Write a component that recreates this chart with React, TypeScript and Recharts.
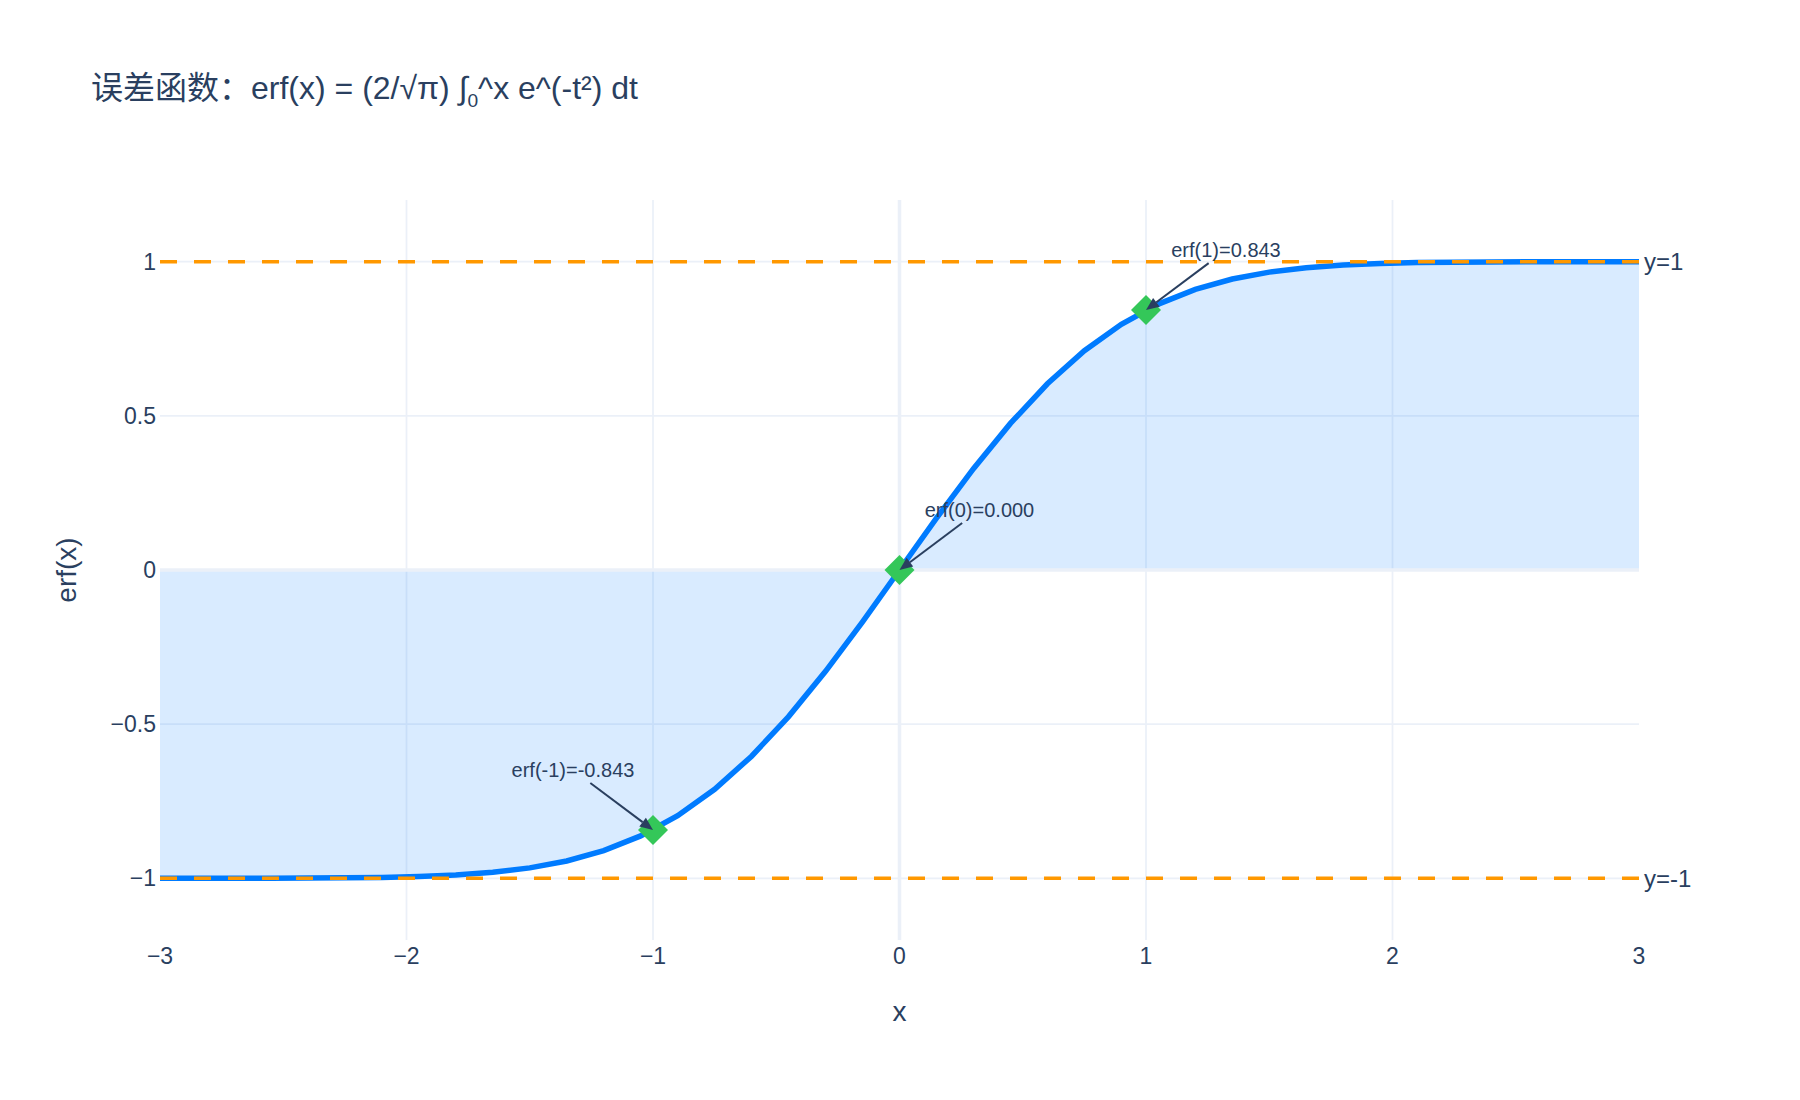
import {
  Area,
  CartesianGrid,
  ComposedChart,
  Line,
  ReferenceLine,
  Scatter,
  XAxis,
  YAxis,
} from "recharts";

// erf(x) sampled every 0.15 on [-3, 3]
const xValues = [
  -3, -2.85, -2.7, -2.55, -2.4, -2.25, -2.1, -1.95, -1.8, -1.65, -1.5, -1.35,
  -1.2, -1.05, -0.9, -0.75, -0.6, -0.45, -0.3, -0.15, 0, 0.15, 0.3, 0.45, 0.6,
  0.75, 0.9, 1.05, 1.2, 1.35, 1.5, 1.65, 1.8, 1.95, 2.1, 2.25, 2.4, 2.55, 2.7,
  2.85, 3,
];
const erfValues = [
  -1.0, -1.0, -0.9999, -0.9997, -0.9993, -0.9985, -0.997, -0.9942, -0.9891,
  -0.9804, -0.9661, -0.9438, -0.9103, -0.8624, -0.7969, -0.7112, -0.6039,
  -0.4755, -0.3286, -0.168, 0, 0.168, 0.3286, 0.4755, 0.6039, 0.7112, 0.7969,
  0.8624, 0.9103, 0.9438, 0.9661, 0.9804, 0.9891, 0.9942, 0.997, 0.9985,
  0.9993, 0.9997, 0.9999, 1.0, 1.0,
];

const markerX = [-1, 0, 1];
const markerY = [-0.843, 0, 0.843];
const markerLabels = ["erf(-1)=-0.843", "erf(0)=0.000", "erf(1)=0.843"];

const boundValues = [1, -1];
const boundLabels = ["y=1", "y=-1"];

const xTicks = [-3, -2, -1, 0, 1, 2, 3];
const yTicks = [-1, -0.5, 0, 0.5, 1];
// grid lines sit on inner ticks only (none on the plot edges)
const xGridTicks = [-2, -1, 1, 2];
const yGridTicks = [-1, -0.5, 0.5, 1];

const curveData = xValues.map((x, i) => ({ x, y: erfValues[i] }));
const markerData = markerX.map((x, i) => ({
  x,
  y: markerY[i],
  label: markerLabels[i],
}));

const TEXT = "#2a3f5f";
const GRID = "#EBF0F8";
const FONT = '"Liberation Sans", Arial, "Noto Sans CJK SC", sans-serif';

function fmtTick(v: number) {
  return v < 0 ? `\u2212${Math.abs(v)}` : String(v);
}

function scaleOf(axis: any) {
  const s = axis?.scale;
  if (typeof s === "function") return s;
  if (s && typeof s.map === "function") return (v: number) => s.map(v);
  return null;
}

function MarkerWithNote(props: any) {
  const { cx, cy, payload } = props;
  if (cx == null || cy == null) return null;
  const dx = payload.x < 0 ? -80 : 80;
  const dy = -60;
  const k = (Math.abs(dy) - 13) / Math.abs(dy);
  const sx = cx + dx * k;
  const sy = cy + dy * k;
  const len = Math.hypot(sx - cx, sy - cy);
  const ux = (sx - cx) / len;
  const uy = (sy - cy) / len;
  const headLen = 13;
  const headW = 5.5;
  const bx = cx + ux * headLen;
  const by = cy + uy * headLen;
  const px = -uy;
  const py = ux;
  const r = 15;

  return (
    <g>
      <polygon
        points={`${cx},${cy - r} ${cx + r},${cy} ${cx},${cy + r} ${cx - r},${cy}`}
        fill="#34c759"
      />
      <line x1={sx} y1={sy} x2={bx} y2={by} stroke={TEXT} strokeWidth={2} />
      <polygon
        points={`${cx},${cy} ${bx + px * headW},${by + py * headW} ${bx - px * headW},${by - py * headW}`}
        fill={TEXT}
      />
      <text
        x={cx + dx}
        y={cy + dy}
        textAnchor="middle"
        dominantBaseline="central"
        fontSize={20}
        fill={TEXT}
        fontFamily={FONT}
      >
        {payload.label}
      </text>
    </g>
  );
}

export default function App() {
  return (
    <div
      style={{
        position: "absolute",
        left: 0,
        top: 0,
        width: 1800,
        height: 1100,
        background: "#ffffff",
        fontFamily: FONT,
      }}
    >
      <div
        style={{
          position: "absolute",
          left: 91,
          top: 69,
          fontSize: 32,
          lineHeight: "38px",
          color: TEXT,
          whiteSpace: "nowrap",
        }}
      >
        误差函数：erf(x) = (2/√π) ∫
        <span style={{ fontSize: "0.6em", verticalAlign: "-0.4em" }}>0</span>
        ^x e^(-t²) dt
      </div>

      <ComposedChart
        width={1800}
        height={1100}
        data={curveData}
        margin={{ top: 200, right: 161, bottom: 120, left: 100 }}
      >
        <CartesianGrid
          stroke={GRID}
          strokeWidth={1.75}
          verticalCoordinatesGenerator={(p: any) => {
            const s = scaleOf(p.xAxis);
            return s ? xGridTicks.map((t) => s(t)) : [];
          }}
          horizontalCoordinatesGenerator={(p: any) => {
            const s = scaleOf(p.yAxis);
            return s ? yGridTicks.map((t) => s(t)) : [];
          }}
        />
        <XAxis
          type="number"
          dataKey="x"
          domain={[-3, 3]}
          ticks={xTicks}
          height={40}
          axisLine={false}
          tickLine={false}
          tickSize={0}
          tickMargin={8}
          tickFormatter={fmtTick}
          tick={{ fontSize: 23, fill: TEXT, fontFamily: FONT }}
          label={{
            content: (p: any) => {
              const vb = p.viewBox || { x: 160, y: 940, width: 1479 };
              return (
                <text
                  x={vb.x + vb.width / 2}
                  y={vb.y + 71}
                  textAnchor="middle"
                  dominantBaseline="central"
                  fontSize={28}
                  fill={TEXT}
                  fontFamily={FONT}
                >
                  x
                </text>
              );
            },
          }}
        />
        <YAxis
          type="number"
          domain={[-1.2, 1.2]}
          ticks={yTicks}
          width={60}
          axisLine={false}
          tickLine={false}
          tickSize={0}
          tickMargin={4}
          tickFormatter={fmtTick}
          tick={{ fontSize: 23, fill: TEXT, fontFamily: FONT }}
          label={{
            content: (p: any) => {
              const vb = p.viewBox || { x: 100, y: 200, height: 740 };
              const lx = vb.x - 34;
              const ly = vb.y + vb.height / 2;
              return (
                <text
                  x={lx}
                  y={ly}
                  transform={`rotate(-90 ${lx} ${ly})`}
                  textAnchor="middle"
                  dominantBaseline="central"
                  fontSize={28}
                  fill={TEXT}
                  fontFamily={FONT}
                >
                  erf(x)
                </text>
              );
            },
          }}
        />
        <ReferenceLine x={0} stroke={GRID} strokeWidth={3.5} />
        <ReferenceLine y={0} stroke={GRID} strokeWidth={3.5} />
        <Area
          type="linear"
          dataKey="y"
          baseValue={0}
          stroke="none"
          fill="#007bff"
          fillOpacity={0.15}
          isAnimationActive={false}
        />
        <Line
          type="linear"
          dataKey="y"
          stroke="#007bff"
          strokeWidth={5.5}
          dot={false}
          isAnimationActive={false}
        />
        {boundValues.map((v, i) => (
          <ReferenceLine
            key={boundLabels[i]}
            y={v}
            stroke="#ff9800"
            strokeWidth={3.5}
            strokeDasharray="17 17"
            label={{
              value: boundLabels[i],
              position: "right",
              offset: 5,
              fontSize: 24,
              fill: TEXT,
              fontFamily: FONT,
            }}
          />
        ))}
        <Scatter
          data={markerData}
          dataKey="y"
          shape={MarkerWithNote}
          isAnimationActive={false}
        />
      </ComposedChart>
    </div>
  );
}
